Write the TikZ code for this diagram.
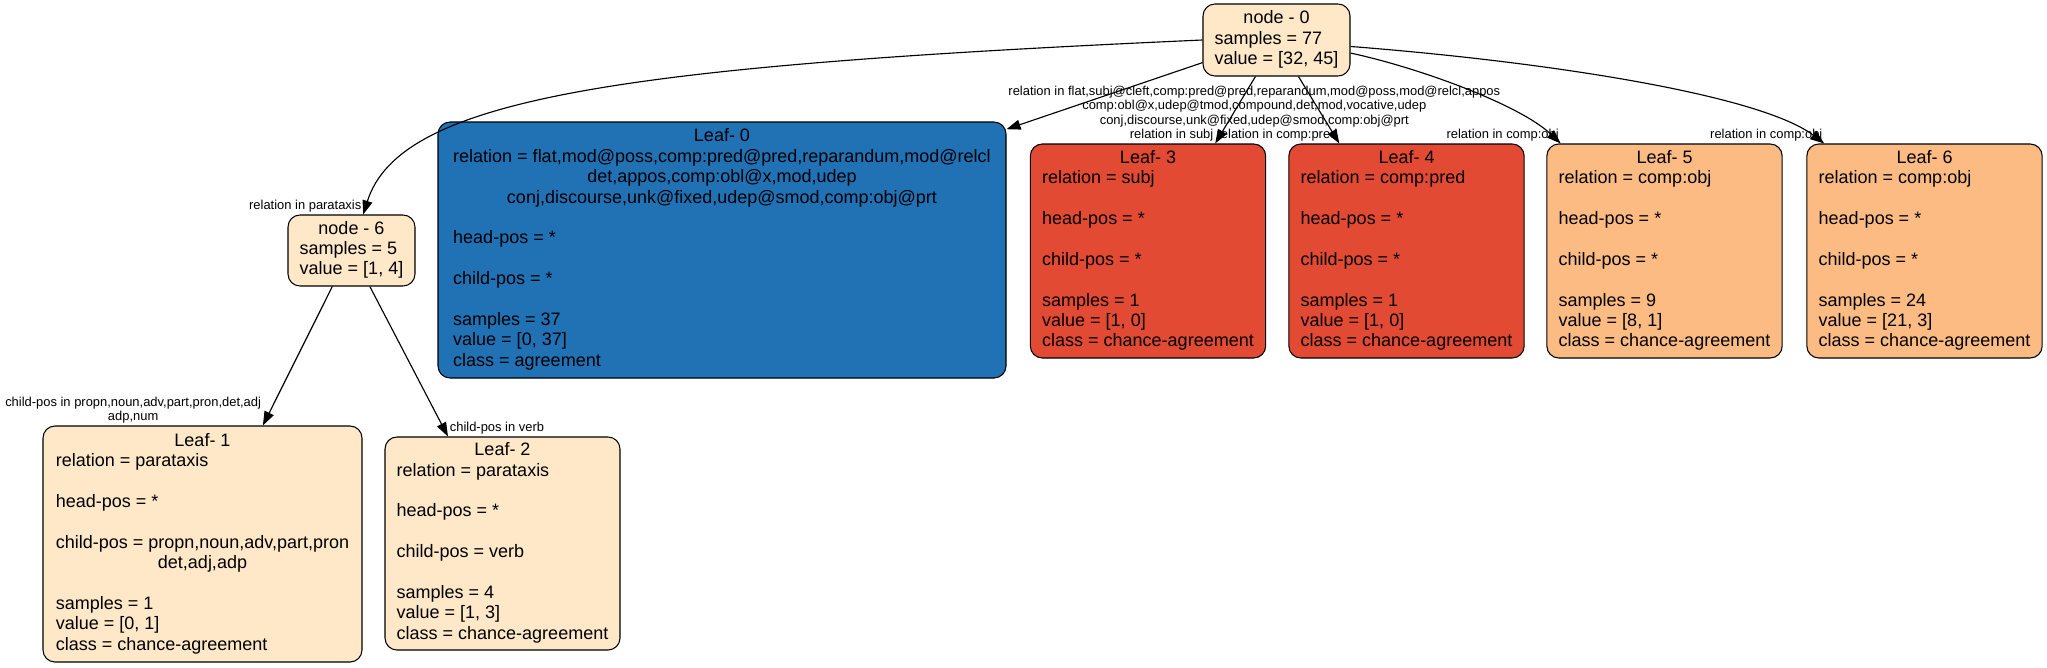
\documentclass[tikz,border=0pt]{standalone}
\usepackage{fontspec}
\setmainfont{Liberation Sans}
\usetikzlibrary{arrows.meta}

\definecolor{peach}{HTML}{FEE8C8}
\definecolor{salmon}{HTML}{FDBB84}
\definecolor{tomato}{HTML}{E34A33}
\definecolor{steel}{HTML}{2171B5}

\newcommand{\boxfont}{\fontsize{13.5}{15.3}\selectfont}
\newcommand{\edgefont}{\fontsize{9.7}{11}\selectfont}
\newcommand{\hd}[1]{\multicolumn{1}{@{}c@{}}{#1}}
\newcommand{\rows}[1]{\begin{tabular}{@{}l@{}}#1\end{tabular}}

\tikzset{
  treebox/.style={draw, line width=0.8pt, rounded corners=9pt, inner sep=0pt, font=\boxfont},
  leafbox/.style={treebox, minimum width=176.5pt, minimum height=160.5pt},
  link/.style={line width=0.85pt, -{Triangle[length=10.5pt,width=7.5pt]}},
  lbl/.style={font=\edgefont, align=center, inner sep=1pt, pos=1},
}

\begin{document}
\begin{tikzpicture}[x=0.75pt, y=-0.75pt]
  \useasboundingbox (0,0) rectangle (2047,667);

  % inner nodes
  \node[treebox, fill=peach, minimum width=110.25pt, minimum height=54pt] (n0) at (1276.5,40)
    {\rows{\hd{node - 0}\\ samples = 77\\ value = [32, 45]}};
  \node[treebox, fill=peach, minimum width=95.25pt, minimum height=53.25pt] (n6) at (351.5,250.5)
    {\rows{\hd{node - 6}\\ samples = 5\\ value = [1, 4]}};

  % leaves
  \node[treebox, fill=steel, minimum width=426pt, minimum height=192pt] (l0) at (722,250)
    {\rows{\hd{Leaf- 0}\\
      relation = flat,mod@poss,comp:pred@pred,reparandum,mod@relcl\\
      \hd{det,appos,comp:obl@x,mod,udep}\\
      \hd{conj,discourse,unk@fixed,udep@smod,comp:obj@prt}\\ \\
      head-pos = *\\ \\ child-pos = *\\ \\
      samples = 37\\ value = [0, 37]\\ class = agreement}};
  \node[treebox, fill=peach, minimum width=239.25pt, minimum height=177pt] (l1) at (202.5,544)
    {\rows{\hd{Leaf- 1}\\ relation = parataxis\\ \\ head-pos = *\\ \\
      child-pos = propn,noun,adv,part,pron\\ \hd{det,adj,adp}\\ \\
      samples = 1\\ value = [0, 1]\\ class = chance-agreement}};
  \node[treebox, fill=peach, minimum width=176.25pt, minimum height=159.75pt] (l2) at (502.5,543.5)
    {\rows{\hd{Leaf- 2}\\ relation = parataxis\\ \\ head-pos = *\\ \\
      child-pos = verb\\ \\
      samples = 4\\ value = [1, 3]\\ class = chance-agreement}};
  \node[leafbox, fill=tomato] (l3) at (1148,251)
    {\rows{\hd{Leaf- 3}\\ relation = subj\\ \\ head-pos = *\\ \\ child-pos = *\\ \\
      samples = 1\\ value = [1, 0]\\ class = chance-agreement}};
  \node[leafbox, fill=tomato] (l4) at (1406.5,251)
    {\rows{\hd{Leaf- 4}\\ relation = comp:pred\\ \\ head-pos = *\\ \\ child-pos = *\\ \\
      samples = 1\\ value = [1, 0]\\ class = chance-agreement}};
  \node[leafbox, fill=salmon] (l5) at (1664.5,251)
    {\rows{\hd{Leaf- 5}\\ relation = comp:obj\\ \\ head-pos = *\\ \\ child-pos = *\\ \\
      samples = 9\\ value = [8, 1]\\ class = chance-agreement}};
  \node[leafbox, fill=salmon] (l6) at (1924.5,251)
    {\rows{\hd{Leaf- 6}\\ relation = comp:obj\\ \\ head-pos = *\\ \\ child-pos = *\\ \\
      samples = 24\\ value = [21, 3]\\ class = chance-agreement}};

  % edges
  \draw[link] (n0.180) .. controls (620,66) and (400,98) .. (n6.72)
    node[lbl, anchor=south east] (e6) {relation in parataxis};
  \draw[link] (n0.197) -- (l0.23)
    node[lbl, anchor=south west] (e0) {relation in flat,subj@cleft,comp:pred@pred,reparandum,mod@poss,mod@relcl,appos\\
      comp:obl@x,udep@tmod,compound,det,mod,vocative,udep\\
      conj,discourse,unk@fixed,udep@smod,comp:obj@prt};
  \draw[link] (n0.240) -- (l3.58)
    node[lbl, anchor=south east] (e3) {relation in subj};
  \draw[link] (n0.301) -- (l4.122)
    node[lbl, anchor=south east] (e4) {relation in comp:pred};
  \draw[link] (n0.350) .. controls (1420,68) and (1520,105) .. (l5.134)
    node[lbl, anchor=south east] (e5) {relation in comp:obj};
  \draw[link] (n0.355) .. controls (1550,62) and (1760,95) .. (l6.133.5)
    node[lbl, anchor=south east] (e7) {relation in comp:obj};
  \draw[link] (n6.242.5) -- (l1.63)
    node[lbl, anchor=south east] (e1) {child-pos in propn,noun,adv,part,pron,det,adj\\ adp,num};
  \draw[link] (n6.297.5) -- (l2.117.5)
    node[lbl, anchor=south west] (e2) {child-pos in verb};
\end{tikzpicture}
\end{document}
